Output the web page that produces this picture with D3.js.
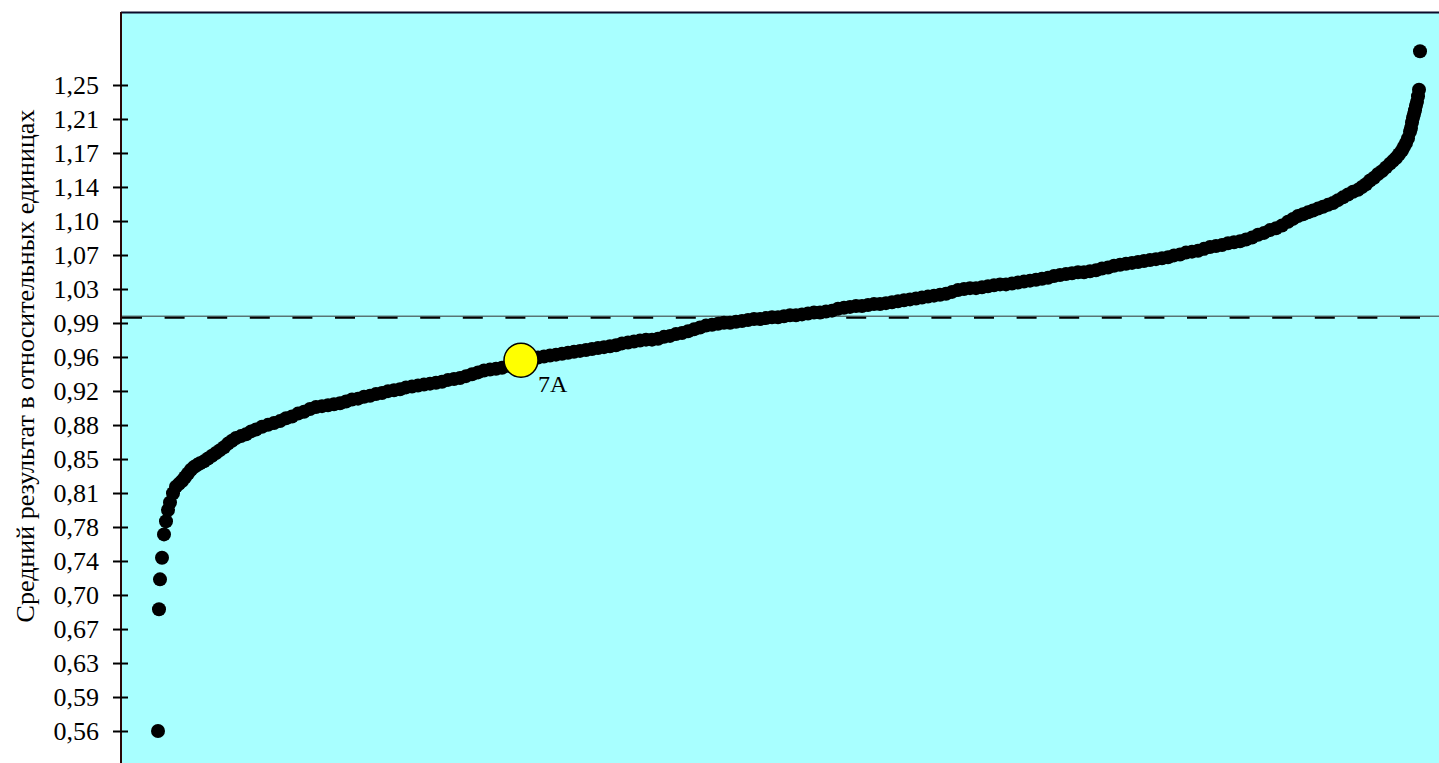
<!DOCTYPE html>
<html>
<head>
  <meta charset="utf-8">
  <title>Средний результат в относительных единицах</title>
  <style>
    body { margin: 0; background: #fff; }
    svg { display: block; }
    .axis text { font-family: "Liberation Serif", "Times New Roman", serif; font-size: 26px; fill: #000; }
    .title { font-family: "Liberation Serif", "Times New Roman", serif; font-size: 26px; fill: #000; }
    .mark-label { font-family: "Liberation Serif", "Times New Roman", serif; font-size: 24px; fill: #000; }
  </style>
</head>
<body>
  <svg id="chart"></svg>

  <script src="https://d3js.org/d3.v7.min.js"></script>
  <script>
    // Подписи шкалы Y
    const tickValues = [0.5600, 0.5963, 0.6326, 0.6689, 0.7053, 0.7416, 0.7779, 0.8142, 0.8505, 0.8868,
                        0.9232, 0.9595, 0.9958, 1.0321, 1.0684, 1.1047, 1.1411, 1.1774, 1.2137, 1.2500];
    const tickLabels = ["0,56", "0,59", "0,63", "0,67", "0,70", "0,74", "0,78", "0,81", "0,85", "0,88",
                        "0,92", "0,96", "0,99", "1,03", "1,07", "1,10", "1,14", "1,17", "1,21", "1,25"];

    // Ранг (место в упорядоченном ряду) и средний результат
    const ranks = [
      1, 2, 3, 5, 7, 9, 11, 13,
      16, 19, 22, 25, 28, 31, 34, 37, 40,
      43, 47, 51, 55, 59, 63, 67, 71, 75, 79,
      84, 89, 94, 99, 105,
      111, 117, 123, 129, 135, 141, 147, 153, 159, 165,
      171, 177, 183, 189, 195, 201, 207, 213, 219, 225,
      231, 237, 243, 249, 255, 261, 267, 273, 279, 285,
      291, 297, 303, 309, 315, 321, 327, 333, 339, 345,
      351, 357, 363, 369, 375, 381, 387, 393, 399, 405,
      411, 417, 423, 429, 435, 441, 447, 453, 459, 465,
      471, 477, 483, 489, 495, 501, 507, 513, 519, 525,
      531, 537, 543, 549, 555, 561, 567, 573, 579, 585,
      591, 597, 603, 609, 615, 621, 627, 633, 639, 645,
      651, 657, 663, 669, 675, 681, 687, 693, 699, 705,
      711, 717, 723, 729, 735, 741, 747, 753, 759, 765,
      771, 777, 783, 789, 795, 801, 807, 813, 819, 825,
      831, 837, 843, 849, 855, 861, 867, 873, 879, 885,
      891, 897, 903, 909, 915, 921, 927, 933, 939, 945,
      951, 957, 963, 969, 975, 981, 987, 993, 999, 1005,
      1011, 1017, 1023, 1029, 1035, 1041, 1047, 1053, 1059, 1065,
      1071, 1077, 1083, 1089, 1095, 1101, 1107, 1113, 1119, 1125,
      1131,
      1136, 1141, 1146, 1151, 1156, 1161, 1166, 1171, 1176, 1181, 1186, 1191, 1196, 1201,
      1205, 1209, 1213, 1217, 1221, 1225, 1229, 1233,
      1236, 1239, 1242, 1245, 1247, 1249, 1251, 1253,
      1254, 1255, 1256, 1257, 1258, 1259, 1260, 1261, 1262, 1263
    ];
    const scores = [
      0.560, 0.690, 0.722, 0.745, 0.770, 0.784, 0.796, 0.804,
      0.814, 0.821, 0.824, 0.827, 0.831, 0.835, 0.839, 0.842, 0.844,
      0.846, 0.848, 0.851, 0.854, 0.857, 0.860, 0.863, 0.867, 0.870, 0.873,
      0.875, 0.877, 0.880, 0.882, 0.885,
      0.887, 0.889, 0.891, 0.894, 0.896, 0.899, 0.901, 0.904, 0.906, 0.907,
      0.908, 0.909, 0.910, 0.912, 0.914, 0.915, 0.917, 0.918, 0.920, 0.921,
      0.923, 0.924, 0.925, 0.927, 0.928, 0.929, 0.930, 0.931, 0.932, 0.933,
      0.935, 0.936, 0.937, 0.939, 0.941, 0.943, 0.945, 0.946, 0.947, 0.948,
      0.950, 0.953, 0.955, 0.957, 0.958, 0.959, 0.960, 0.961, 0.962, 0.963,
      0.964, 0.965, 0.966, 0.967, 0.968, 0.969, 0.970, 0.971, 0.972, 0.974,
      0.975, 0.976, 0.977, 0.978, 0.978, 0.979, 0.981, 0.982, 0.984, 0.985,
      0.987, 0.989, 0.991, 0.993, 0.994, 0.995, 0.996, 0.996, 0.997, 0.998,
      0.999, 1.000, 1.000, 1.001, 1.002, 1.002, 1.003, 1.004, 1.004, 1.005,
      1.006, 1.007, 1.007, 1.008, 1.009, 1.011, 1.012, 1.013, 1.014, 1.014,
      1.015, 1.016, 1.016, 1.017, 1.018, 1.019, 1.020, 1.021, 1.022, 1.023,
      1.024, 1.025, 1.026, 1.027, 1.029, 1.031, 1.032, 1.033, 1.033, 1.034,
      1.035, 1.036, 1.037, 1.037, 1.038, 1.039, 1.040, 1.041, 1.042, 1.043,
      1.044, 1.046, 1.047, 1.048, 1.049, 1.050, 1.050, 1.051, 1.052, 1.054,
      1.055, 1.057, 1.058, 1.059, 1.060, 1.061, 1.062, 1.063, 1.064, 1.065,
      1.066, 1.068, 1.069, 1.071, 1.072, 1.073, 1.075, 1.077, 1.078, 1.079,
      1.081, 1.082, 1.083, 1.085, 1.087, 1.090, 1.092, 1.095, 1.097, 1.100,
      1.104,
      1.107, 1.110, 1.112, 1.114, 1.116, 1.118, 1.120, 1.122, 1.124, 1.127, 1.130, 1.133, 1.136, 1.138,
      1.141, 1.144, 1.148, 1.151, 1.155, 1.158, 1.162, 1.166,
      1.169, 1.172, 1.176, 1.180, 1.184, 1.188, 1.193, 1.200,
      1.204, 1.210, 1.215, 1.219, 1.223, 1.228, 1.232, 1.238, 1.245, 1.286
    ];

    // Выделенный класс
    const markNames = ["7A"];
    const markRanks = [364];
    const markScores = [0.956];

    // Линия среднего
    const refLine = [1.002];

    const width = 1439;
    const height = 763;
    const plotLeft = 121;
    const plotTop = 12;

    const svg = d3.select("#chart")
      .attr("width", width)
      .attr("height", height);

    const x = d3.scaleLinear().domain([1, 1263]).range([158, 1420]);
    const y = d3.scaleLinear().domain([0.56, 1.25]).range([731, 85]);

    // Фон области построения
    svg.append("rect")
      .attr("x", plotLeft)
      .attr("y", plotTop)
      .attr("width", width - plotLeft + 5)
      .attr("height", height - plotTop + 5)
      .attr("fill", "#a8ffff");

    // Рамка: верх и левая ось
    svg.append("line")
      .attr("x1", plotLeft).attr("x2", width + 5)
      .attr("y1", plotTop + 0.5).attr("y2", plotTop + 0.5)
      .attr("stroke", "#0b0b2a").attr("stroke-width", 2);

    svg.append("line")
      .attr("x1", plotLeft).attr("x2", plotLeft)
      .attr("y1", plotTop).attr("y2", height + 5)
      .attr("stroke", "#2a0606").attr("stroke-width", 2);

    // Ось Y
    const axis = svg.append("g")
      .attr("class", "axis")
      .attr("transform", `translate(${plotLeft},0)`)
      .call(d3.axisLeft(y)
        .tickValues(tickValues)
        .tickFormat((d, i) => tickLabels[i])
        .tickSize(8)
        .tickPadding(14));

    axis.select(".domain").remove();
    axis.selectAll(".tick line")
      .attr("x1", 7)
      .attr("x2", -8)
      .attr("stroke", "#000")
      .attr("stroke-width", 2);

    // Подпись оси
    svg.append("text")
      .attr("class", "title")
      .attr("transform", `translate(34,366) rotate(-90)`)
      .attr("text-anchor", "middle")
      .text("Средний результат в относительных единицах");

    // Пунктирная линия среднего
    svg.selectAll(".ref-solid")
      .data(refLine)
      .enter().append("line")
      .attr("class", "ref-solid")
      .attr("x1", plotLeft + 1).attr("x2", width)
      .attr("y1", d => y(d) - 1).attr("y2", d => y(d) - 1)
      .attr("stroke", "#333").attr("stroke-width", 1);

    svg.selectAll(".ref-dash")
      .data(refLine)
      .enter().append("line")
      .attr("class", "ref-dash")
      .attr("x1", plotLeft + 1).attr("x2", width)
      .attr("y1", d => y(d) + 0.5).attr("y2", d => y(d) + 0.5)
      .attr("stroke", "#000").attr("stroke-width", 2)
      .attr("stroke-dasharray", "20,22.6");

    // Точки
    svg.append("g")
      .selectAll("circle")
      .data(ranks)
      .enter().append("circle")
      .attr("cx", d => x(d))
      .attr("cy", (d, i) => y(scores[i]))
      .attr("r", 7)
      .attr("fill", "#000");

    // Выделенная точка
    const marks = svg.append("g")
      .selectAll("g")
      .data(markNames)
      .enter().append("g");

    marks.append("circle")
      .attr("cx", (d, i) => x(markRanks[i]))
      .attr("cy", (d, i) => y(markScores[i]))
      .attr("r", 17)
      .attr("fill", "#ffff00")
      .attr("stroke", "#000")
      .attr("stroke-width", 1.5);

    marks.append("text")
      .attr("x", (d, i) => x(markRanks[i]) + 17)
      .attr("y", (d, i) => y(markScores[i]) + 32)
      .attr("class", "mark-label")
      .text(d => d);
  </script>
</body>
</html>
